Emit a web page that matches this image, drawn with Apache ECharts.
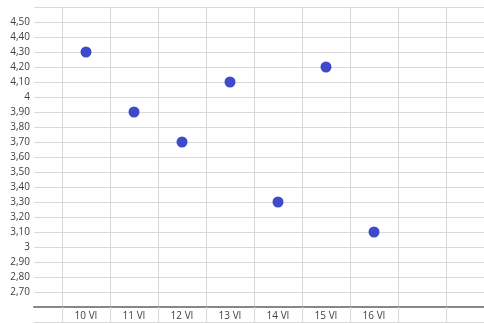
<!DOCTYPE html>
<html>
<head>
<meta charset="utf-8">
<script src="https://cdn.jsdelivr.net/npm/echarts@6/dist/echarts.min.js"></script>
<style>html,body{margin:0;padding:0;background:#fff}#c{width:484px;height:324px}</style>
</head>
<body>
<div id="c"></div>
<script>
// Data
var categories = ['', '10 VI', '11 VI', '12 VI', '13 VI', '14 VI', '15 VI', '16 VI', ''];
var values = [null, 4.30, 3.90, 3.70, 4.10, 3.30, 4.20, 3.10, null];
var yTickValues = [2.7, 2.8, 2.9, 3.0, 3.1, 3.2, 3.3, 3.4, 3.5, 3.6, 3.7, 3.8, 3.9, 4.0, 4.1, 4.2, 4.3, 4.4, 4.5];
var yTickLabels = ['2,70', '2,80', '2,90', '3', '3,10', '3,20', '3,30', '3,40', '3,50', '3,60', '3,70', '3,80', '3,90', '4', '4,10', '4,20', '4,30', '4,40', '4,50'];

var FONT = 'Open Sans';
var GRID_COLOR = '#d9d9d9';
var chart = echarts.init(document.getElementById('c'), null, {renderer: 'canvas'});
chart.setOption({
  animation: false,
  grid: [
    {left: 34, right: 0, top: 7, bottom: 17},
    {left: 14, width: 432, top: 7, bottom: 17}
  ],
  xAxis: [
    {gridIndex: 0, type: 'value', min: 0, max: 1,
     axisLine: {show: true, lineStyle: {color: '#878787', width: 2}},
     axisTick: {show: false}, axisLabel: {show: false}, splitLine: {show: false}},
    {gridIndex: 1, type: 'category', data: categories, boundaryGap: true,
     axisLine: {show: false},
     axisTick: {show: true, length: 15, inside: false, lineStyle: {color: GRID_COLOR},
       interval: function (i) { return i !== 0; }},
     axisLabel: {show: true, interval: 0, margin: 4, fontFamily: FONT, fontSize: 10, color: '#404040'},
     splitLine: {show: true, showMinLine: false, lineStyle: {color: GRID_COLOR, width: 1}}},
    {gridIndex: 0, type: 'value', min: 0, max: 1, position: 'bottom', offset: 15,
     axisLine: {show: true, lineStyle: {color: GRID_COLOR, width: 1}},
     axisTick: {show: false}, axisLabel: {show: false}, splitLine: {show: false}}
  ],
  yAxis: [
    {gridIndex: 0, type: 'value', min: 2.6, max: 4.6, interval: 0.1,
     axisLine: {show: false}, axisTick: {show: false},
     splitLine: {show: true, showMinLine: false, lineStyle: {color: GRID_COLOR, width: 1}},
     axisLabel: {margin: 4, fontFamily: FONT, fontSize: 10, color: '#404040',
       formatter: function (v) {
         for (var i = 0; i < yTickValues.length; i++) {
           if (Math.abs(yTickValues[i] - v) < 1e-6) return yTickLabels[i];
         }
         return '';
       }}},
    {gridIndex: 1, type: 'value', min: 2.6, max: 4.6, show: false, splitLine: {show: false}}
  ],
  series: [{
    type: 'scatter', xAxisIndex: 1, yAxisIndex: 1,
    data: values, symbolSize: 11,
    itemStyle: {color: '#3f49cc', opacity: 1}
  }]
});
</script>
</body>
</html>
